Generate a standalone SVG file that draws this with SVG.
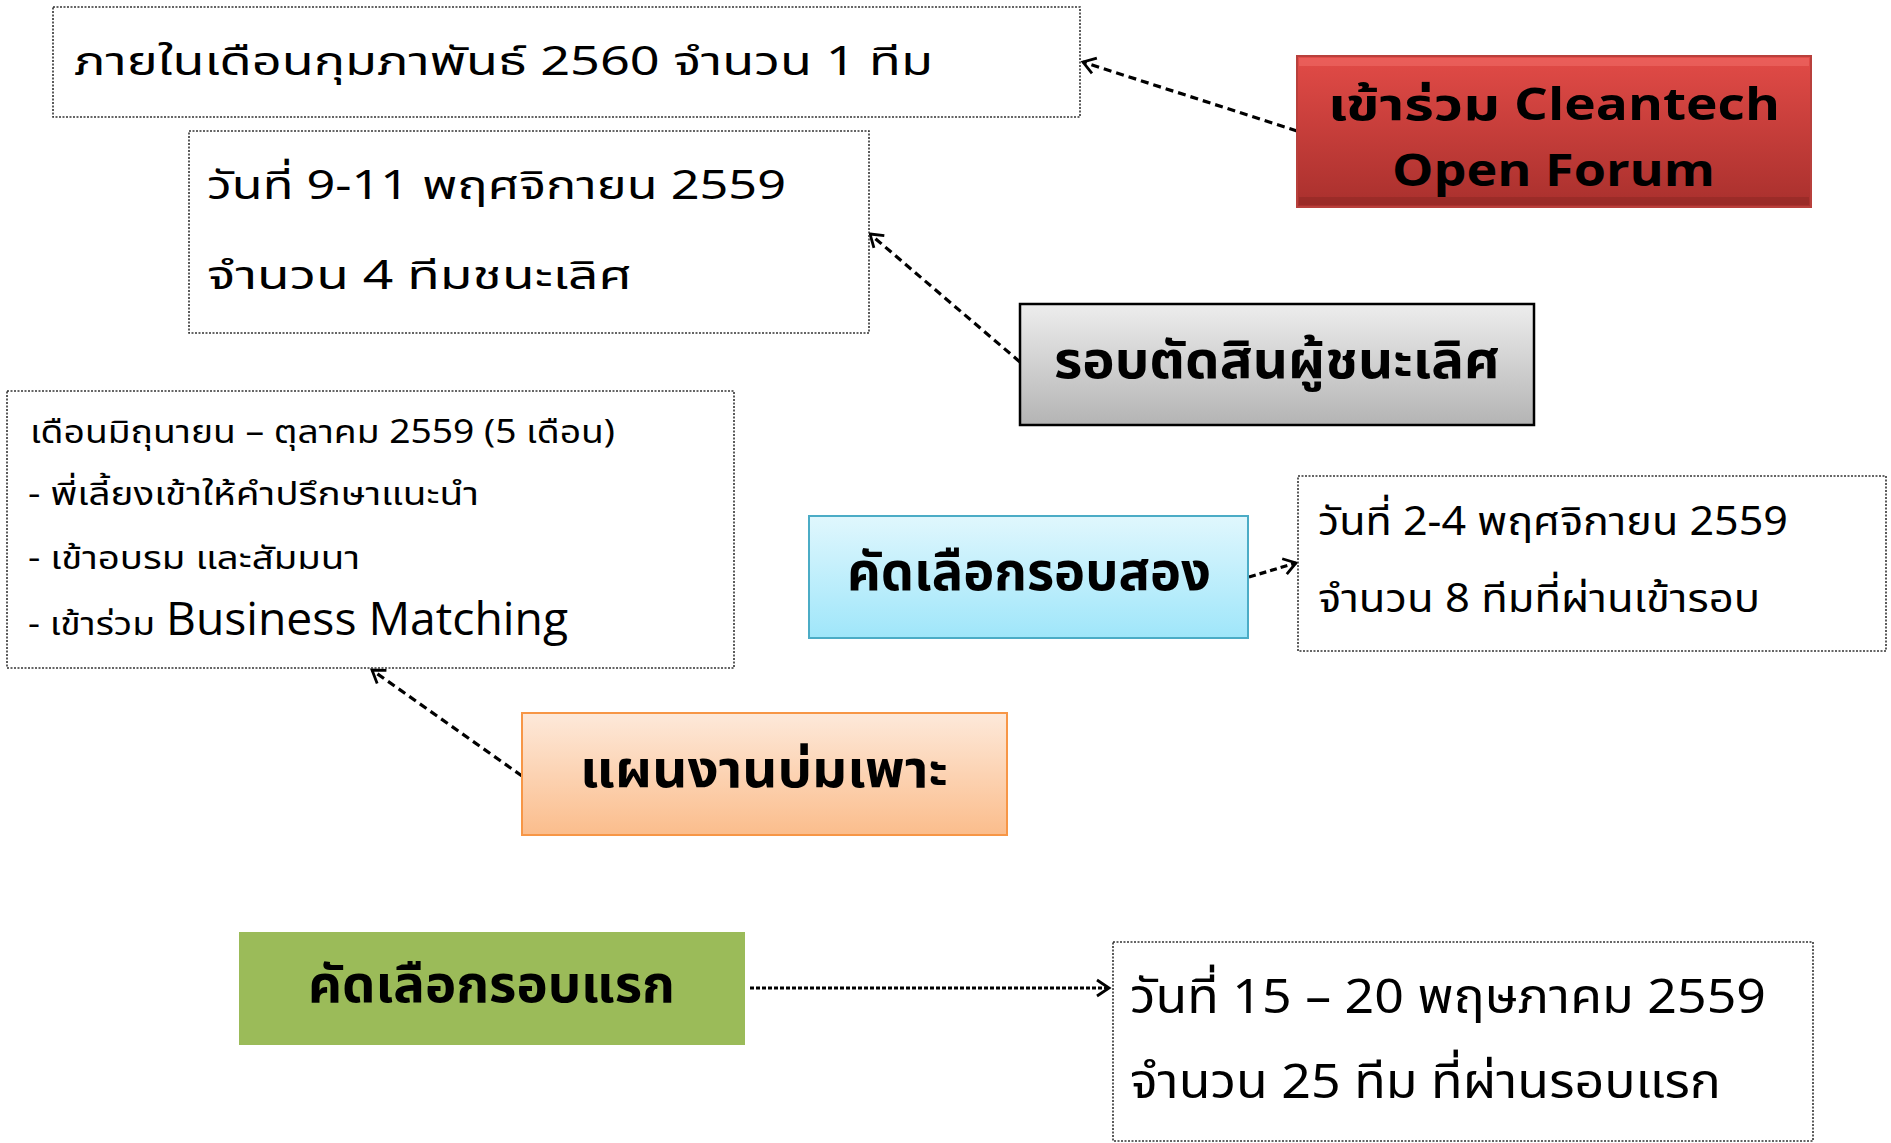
<svg xmlns="http://www.w3.org/2000/svg" width="1891" height="1143" viewBox="0 0 1891 1143">
<defs>
<linearGradient id="gRed" x1="0" y1="0" x2="0" y2="1"><stop offset="0" stop-color="#e24b47"/><stop offset="1" stop-color="#a9302d"/></linearGradient>
<linearGradient id="gGray" x1="0" y1="0" x2="0" y2="1"><stop offset="0" stop-color="#ededed"/><stop offset="1" stop-color="#b4b4b4"/></linearGradient>
<linearGradient id="gCyan" x1="0" y1="0" x2="0" y2="1"><stop offset="0" stop-color="#e0f7fd"/><stop offset="1" stop-color="#9fe6fa"/></linearGradient>
<linearGradient id="gOrange" x1="0" y1="0" x2="0" y2="1"><stop offset="0" stop-color="#fde9da"/><stop offset="1" stop-color="#fbbd8c"/></linearGradient>
<marker id="arr" markerWidth="18" markerHeight="20" refX="14" refY="10" orient="auto" markerUnits="userSpaceOnUse"><path d="M2,2 L14,10 L2,18" fill="none" stroke="#000" stroke-width="2.8"/></marker>
</defs>
<style>
.info{fill:#fff;stroke:#333;stroke-width:1.6;stroke-dasharray:2 1.5}
.t{font-family:"Noto Sans Thai","Noto Sans","DejaVu Sans",sans-serif;fill:#000}
.lat{font-family:"Open Sans","Liberation Sans",sans-serif}
.b{font-weight:bold}
.conn{fill:none;stroke:#000;stroke-width:3.2;stroke-dasharray:8 5;marker-end:url(#arr)}
</style>
<rect width="1891" height="1143" fill="#fff"/>
<g id="connectors">
<line class="conn" x1="1297" y1="131" x2="1083" y2="62"/>
<line class="conn" x1="1020" y1="362" x2="870" y2="234"/>
<line class="conn" x1="522" y1="776" x2="372" y2="670"/>
<line class="conn" x1="1249" y1="577" x2="1296" y2="563" style="stroke-dasharray:7 4"/>
<line class="conn" x1="750" y1="988" x2="1109" y2="988" style="stroke-dasharray:4 2"/>
</g>
<g id="info-feb">
<rect class="info" x="53" y="7" width="1027" height="110"/>
<text class="t" x="74" y="75" font-size="40" textLength="859" lengthAdjust="spacingAndGlyphs">ภายในเดือนกุมภาพันธ์ 2560 จำนวน 1 ทีม</text>
</g>
<g id="info-final">
<rect class="info" x="189" y="131" width="680" height="202"/>
<text class="t" x="207" y="199" font-size="40" textLength="579" lengthAdjust="spacingAndGlyphs">วันที่ 9-11 พฤศจิกายน 2559</text>
<text class="t" x="207" y="289" font-size="40" textLength="425" lengthAdjust="spacingAndGlyphs">จำนวน 4 ทีมชนะเลิศ</text>
</g>
<g id="cleantech">
<rect x="1297" y="56" width="514" height="151" fill="url(#gRed)" stroke="#b8403c" stroke-width="2"/>
<rect x="1299" y="58" width="510" height="8" fill="#f06a66" opacity="0.6"/>
<rect x="1299" y="197" width="510" height="8" fill="#8a2522" opacity="0.5"/>
<text class="t b" x="1328" y="120" font-size="44"><tspan textLength="172" lengthAdjust="spacingAndGlyphs">เข้าร่วม</tspan><tspan class="lat" x="1514" textLength="266" lengthAdjust="spacingAndGlyphs">Cleantech</tspan></text>
<text class="t b lat" x="1392" y="186" font-size="44" textLength="323" lengthAdjust="spacingAndGlyphs">Open Forum</text>
</g>
<g id="final-round">
<rect x="1020" y="304" width="514" height="121" fill="url(#gGray)" stroke="#000" stroke-width="2.5"/>
<text class="t b" x="1054" y="378" font-size="52" textLength="446" lengthAdjust="spacingAndGlyphs">รอบตัดสินผู้ชนะเลิศ</text>
</g>
<g id="info-incubation">
<rect class="info" x="7" y="391" width="727" height="277"/>
<text class="t" x="30" y="443" font-size="32" textLength="585" lengthAdjust="spacingAndGlyphs">เดือนมิถุนายน – ตุลาคม 2559 (5 เดือน)</text>
<text class="t" x="28" y="505" font-size="32" textLength="451" lengthAdjust="spacingAndGlyphs">- พี่เลี้ยงเข้าให้คำปรึกษาแนะนำ</text>
<text class="t" x="28" y="569" font-size="32" textLength="332" lengthAdjust="spacingAndGlyphs">- เข้าอบรม และสัมมนา</text>
<text class="t" x="28" y="635" font-size="32"><tspan textLength="127" lengthAdjust="spacingAndGlyphs">- เข้าร่วม</tspan><tspan class="lat" x="166" font-size="46" textLength="402" lengthAdjust="spacingAndGlyphs">Business Matching</tspan></text>
</g>
<g id="incubation">
<rect x="522" y="713" width="485" height="122" fill="url(#gOrange)" stroke="#f79646" stroke-width="2"/>
<text class="t b" x="580" y="787" font-size="52" textLength="368" lengthAdjust="spacingAndGlyphs">แผนงานบ่มเพาะ</text>
</g>
<g id="round2">
<rect x="809" y="516" width="439" height="122" fill="url(#gCyan)" stroke="#4bacc6" stroke-width="2"/>
<text class="t b" x="847" y="590" font-size="54" textLength="364" lengthAdjust="spacingAndGlyphs">คัดเลือกรอบสอง</text>
</g>
<g id="info-round2">
<rect class="info" x="1298" y="476" width="588" height="175"/>
<text class="t" x="1318" y="535" font-size="40" textLength="470" lengthAdjust="spacingAndGlyphs">วันที่ 2-4 พฤศจิกายน 2559</text>
<text class="t" x="1318" y="612" font-size="40" textLength="442" lengthAdjust="spacingAndGlyphs">จำนวน 8 ทีมที่ผ่านเข้ารอบ</text>
</g>
<g id="round1">
<rect x="239" y="932" width="506" height="113" fill="#9bbb59"/>
<text class="t b" x="308" y="1002" font-size="52" textLength="367" lengthAdjust="spacingAndGlyphs">คัดเลือกรอบแรก</text>
</g>
<g id="info-round1">
<rect class="info" x="1113" y="942" width="700" height="199"/>
<text class="t" x="1130" y="1013" font-size="48" textLength="636" lengthAdjust="spacingAndGlyphs">วันที่ 15 – 20 พฤษภาคม 2559</text>
<text class="t" x="1130" y="1098" font-size="48" textLength="591" lengthAdjust="spacingAndGlyphs">จำนวน 25 ทีม ที่ผ่านรอบแรก</text>
</g>
</svg>
